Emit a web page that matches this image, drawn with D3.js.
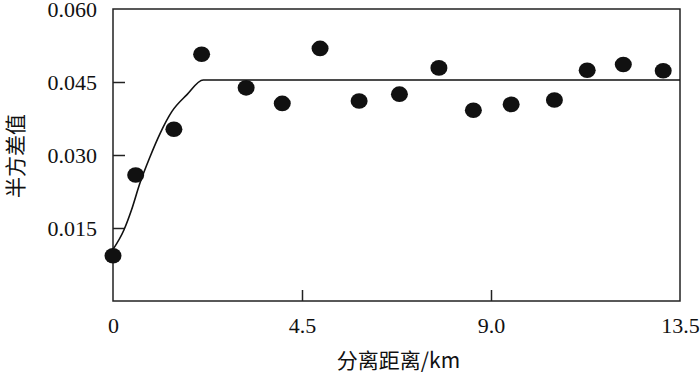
<!DOCTYPE html>
<html>
<head>
<meta charset="utf-8">
<script src="https://cdn.jsdelivr.net/npm/d3@7"></script>
<style>
  body { margin: 0; background: #fff; }
  svg { display: block; }
  .tick text { font-family: "Liberation Serif", "DejaVu Serif", serif; font-size: 22px; fill: #111; }
  .tick line { stroke: #222; stroke-width: 1.5px; }
  .title { font-family: "Noto Sans CJK SC", "Liberation Serif", serif; font-size: 21px; fill: #111; }
</style>
</head>
<body>
<div id="chart"></div>
<script>
// observed semivariance by lag distance
const distance = [0, 0.54, 1.45, 2.11, 3.17, 4.03, 4.93, 5.86, 6.82, 7.76, 8.58, 9.48, 10.51, 11.29, 12.15, 13.1]
const semivar = [0.0093, 0.0259, 0.0353, 0.0507, 0.0438, 0.0406, 0.0519, 0.0411, 0.0425, 0.0479, 0.0392, 0.0404, 0.0413, 0.0474, 0.0486, 0.0473]

// fitted model line
const modelX = [0, 0.26, 0.44, 0.64, 0.88, 1.12, 1.40, 1.75, 2.15, 13.5]
const modelY = [0.0106, 0.0146, 0.0187, 0.0242, 0.0296, 0.0344, 0.0389, 0.0423, 0.0454, 0.0454]

const xTicks = [4.5, 9.0]
const xLabels = [0, 4.5, 9.0, 13.5]
const yTicks = [0.015, 0.030, 0.045, 0.060]

const w = 700
const h = 375
const padL = 113, padR = 680, padT = 9, padB = 301

const x = d3.scaleLinear().domain([0, 13.5]).range([padL, padR])
const y = d3.scaleLinear().domain([0, 0.06]).range([padB, padT])

const svg = d3.select('#chart').append('svg')
  .attr('width', w)
  .attr('height', h)

// y axis, ticks pointing inward
const yAxis = svg.append('g')
  .attr('transform', `translate(${padL},0)`)
  .call(d3.axisLeft(y).tickValues(yTicks).tickFormat(d3.format('.3f'))
    .tickSizeInner(-12).tickSizeOuter(0).tickPadding(16))
yAxis.select('.domain').remove()
yAxis.selectAll('.tick').filter(d => d === 0.060).select('line').remove()

// x axis
const xAxis = svg.append('g')
  .attr('transform', `translate(0,${padB})`)
  .call(d3.axisBottom(x).tickValues(xLabels)
    .tickFormat(d => d === 0 ? '0' : d3.format('.1f')(d))
    .tickSizeInner(-11).tickSizeOuter(0).tickPadding(16))
xAxis.select('.domain').remove()
xAxis.selectAll('.tick').filter(d => !xTicks.includes(d)).select('line').remove()

// frame
svg.append('rect')
  .attr('x', padL).attr('y', padT)
  .attr('width', padR - padL).attr('height', padB - padT)
  .attr('fill', 'none')
  .attr('stroke', '#222')
  .attr('stroke-width', 1.5)

// model curve
const line = d3.line()
  .x(d => x(d[0]))
  .y(d => y(d[1]))
  .curve(d3.curveMonotoneX)

svg.append('path')
  .datum(modelX.map((d, i) => [d, modelY[i]]))
  .attr('d', line)
  .attr('fill', 'none')
  .attr('stroke', '#111')
  .attr('stroke-width', 1.6)

// points
svg.selectAll('ellipse')
  .data(distance.map((d, i) => ({x: d, y: semivar[i]})))
  .enter()
  .append('ellipse')
  .attr('cx', d => x(d.x))
  .attr('cy', d => y(d.y))
  .attr('rx', 8.5)
  .attr('ry', 7.8)
  .attr('fill', '#111')

// axis titles
svg.append('text')
  .attr('class', 'title')
  .attr('x', (padL + padR) / 2 + 2)
  .attr('y', 368)
  .attr('text-anchor', 'middle')
  .text('分离距离/km')

svg.append('text')
  .attr('class', 'title')
  .attr('transform', 'translate(14,156) rotate(-90)')
  .attr('text-anchor', 'middle')
  .attr('dominant-baseline', 'central')
  .text('半方差值')
</script>
</body>
</html>
